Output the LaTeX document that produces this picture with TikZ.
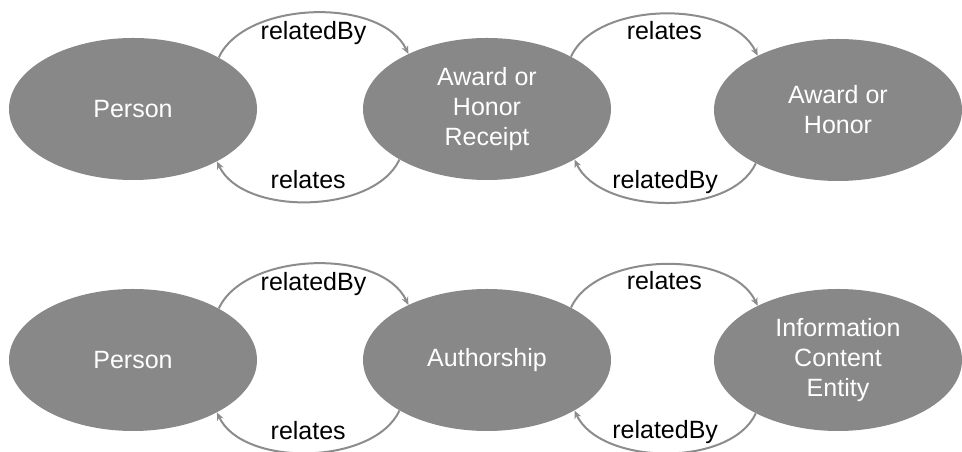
\documentclass[tikz,border=0pt]{standalone}
\usepackage{fontspec}
\setmainfont{Liberation Sans}
\usepackage{xcolor}
\usetikzlibrary{positioning,arrows.meta,shapes.geometric}

\definecolor{cls}{HTML}{888888}
\definecolor{rel}{HTML}{8C8C8C}

\begin{document}
\begin{tikzpicture}[
    x=1pt, y=1pt,
    cl/.style={ellipse, fill=cls, minimum width=248pt, minimum height=142pt, inner sep=0pt,
               align=center, text=white, font=\fontsize{25}{30}\selectfont},
    lbl/.style={inner sep=0pt, text=black, font=\fontsize{25}{30}\selectfont},
    arr/.style={-{Stealth[length=8pt,width=7pt]}, draw=rel, line width=2pt, looseness=.85}
  ]
  \useasboundingbox (0,0) rectangle (962,452);

  % first row
  \node[cl] (per1) at (133,343) {Person};
  \node[cl] (rcp)  at (487,343) {Award or\\Honor\\Receipt};
  \node[cl] (awd)  at (838,342) {Award or\\Honor};

  \draw[arr] (per1.31) to[out=65, in=115] node[lbl, below=8pt] (rb1) {relatedBy} (rcp.145);
  \draw[arr] (rcp.210) to[out=-115, in=-65] node[lbl, above=12pt] (rl1) {relates} (per1.328);
  \draw[arr] (rcp.32) to[out=65, in=115] node[lbl, below=6pt] (rl2) {relates} (awd.146);
  \draw[arr] (awd.213) to[out=-115, in=-65] node[lbl, above=8pt] (rb2) {relatedBy} (rcp.330);

  % second row
  \node[cl] (per2) at (133,92) {Person};
  \node[cl] (aut)  at (487,92) {Authorship};
  \node[cl] (ice)  at (838,92) {Information\\Content\\Entity};

  \draw[arr] (per2.31) to[out=65, in=115] node[lbl, below=8pt] (rb3) {relatedBy} (aut.145);
  \draw[arr] (aut.210) to[out=-115, in=-65] node[lbl, above=12pt] (rl3) {relates} (per2.328);
  \draw[arr] (aut.32) to[out=65, in=115] node[lbl, below=6pt] (rl4) {relates} (ice.146);
  \draw[arr] (ice.213) to[out=-115, in=-65] node[lbl, above=8pt] (rb4) {relatedBy} (aut.330);
\end{tikzpicture}
\end{document}
